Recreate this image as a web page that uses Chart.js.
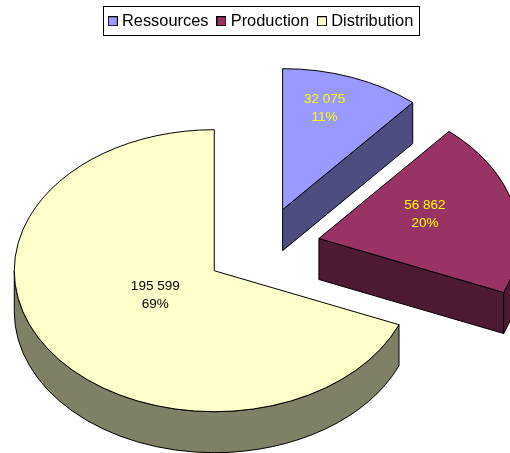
<!DOCTYPE html>
<html>
<head>
<meta charset="utf-8">
<script src="https://cdn.jsdelivr.net/npm/chart.js@4"></script>
<style>
  html, body { margin: 0; padding: 0; background: #fff; overflow: hidden; }
  #wrap { width: 510px; height: 453px; }
</style>
</head>
<body>
<div id="wrap"><canvas id="myChart" width="510" height="453"></canvas></div>
<script>
const categories = ['Ressources', 'Production', 'Distribution'];
const values = [32075, 56862, 195599];
const percents = ['11%', '20%', '69%'];
const valueLabels = ['32 075', '56 862', '195 599'];

const topColors = ['#9999FF', '#993366', '#FFFFCC'];
const sideColors = ['#4D4D80', '#4D1933', '#808066'];
const textColors = ['#FFFF00', '#FFFF00', '#000000'];
// label centre, relative to the tip of its slice
const labelShift = [[42, -101], [106, -24], [-59, 25]];

const squash = 0.705;
const depth = 41;
const explode = 58;
const pieCenterY = 248;

function swatch(color) {
  const c = document.createElement('canvas');
  c.width = 10;
  c.height = 10;
  const g = c.getContext('2d');
  g.fillStyle = color;
  g.fillRect(0, 0, 10, 10);
  g.strokeStyle = '#000';
  g.lineWidth = 1;
  g.strokeRect(0.5, 0.5, 9, 9);
  return c;
}

function pieMiddle(chart) {
  return (chart.chartArea.top + chart.chartArea.bottom) / 2;
}

function squashCtx(chart) {
  chart.ctx.translate(0, pieCenterY - squash * pieMiddle(chart));
  chart.ctx.scale(1, squash);
}

// side walls and cut faces, painted under the slices
function drawSides(chart) {
  const ctx = chart.ctx;
  const h = depth / squash;
  chart.getDatasetMeta(0).data.forEach(function (arc, i) {
    const p = arc.getProps(['x', 'y', 'startAngle', 'endAngle', 'outerRadius'], true);
    const faces = [];
    if (Math.cos(p.endAngle) > 0.001) faces.push(p.endAngle);
    if (Math.cos(p.startAngle) < -0.001) faces.push(p.startAngle);
    faces.forEach(function (a) {
      ctx.save();
      squashCtx(chart);
      ctx.beginPath();
      ctx.moveTo(p.x, p.y);
      ctx.lineTo(p.x + p.outerRadius * Math.cos(a), p.y + p.outerRadius * Math.sin(a));
      ctx.lineTo(p.x + p.outerRadius * Math.cos(a), p.y + h + p.outerRadius * Math.sin(a));
      ctx.lineTo(p.x, p.y + h);
      ctx.closePath();
      ctx.restore();
      ctx.fillStyle = sideColors[i];
      ctx.fill();
      ctx.strokeStyle = '#000';
      ctx.lineWidth = 1;
      ctx.stroke();
    });
    const from = Math.max(p.startAngle, 0);
    const to = Math.min(p.endAngle, Math.PI);
    if (to > from) {
      ctx.save();
      squashCtx(chart);
      ctx.beginPath();
      ctx.arc(p.x, p.y, p.outerRadius, from, to);
      ctx.arc(p.x, p.y + h, p.outerRadius, to, from, true);
      ctx.closePath();
      ctx.restore();
      ctx.fillStyle = sideColors[i];
      ctx.fill();
      ctx.strokeStyle = '#000';
      ctx.lineWidth = 1;
      ctx.stroke();
    }
  });
}

const pie3d = {
  id: 'pie3d',
  afterDatasetsUpdate(chart) {
    chart.getDatasetMeta(0).data.forEach(function (arc) {
      const mid = (arc.startAngle + arc.endAngle) / 2;
      arc.x += explode * Math.cos(mid);
      arc.y += explode * Math.sin(mid);
    });
  },
  beforeDatasetsDraw(chart) {
    drawSides(chart);
    chart.ctx.save();
    squashCtx(chart);
  },
  afterDatasetsDraw(chart) {
    const ctx = chart.ctx;
    ctx.restore();
    chart.getDatasetMeta(0).data.forEach(function (arc, i) {
      // outline with an even 1px pen
      ctx.save();
      squashCtx(chart);
      ctx.beginPath();
      ctx.moveTo(arc.x, arc.y);
      ctx.arc(arc.x, arc.y, arc.outerRadius, arc.startAngle, arc.endAngle);
      ctx.closePath();
      ctx.restore();
      ctx.strokeStyle = '#000';
      ctx.lineWidth = 1;
      ctx.stroke();

      const tipY = pieCenterY + squash * (arc.y - pieMiddle(chart));
      const x = arc.x + labelShift[i][0];
      const y = tipY + labelShift[i][1];
      ctx.fillStyle = textColors[i];
      ctx.font = '13.5px "Liberation Sans", Arial, sans-serif';
      ctx.textAlign = 'center';
      ctx.textBaseline = 'middle';
      ctx.fillText(valueLabels[i], x, y - 9);
      ctx.fillText(percents[i], x, y + 9);
    });

    // frame around the legend
    const boxes = chart.legend.legendHitBoxes;
    const last = boxes[boxes.length - 1];
    const left = Math.round(boxes[0].left) - 9;
    const right = Math.round(last.left + last.width) + 6;
    ctx.strokeStyle = '#000';
    ctx.lineWidth = 1;
    ctx.strokeRect(left + 0.5, 6.5, right - left, 29);
  }
};

new Chart(document.getElementById('myChart'), {
  type: 'pie',
  plugins: [pie3d],
  data: {
    labels: categories,
    datasets: [{
      data: values,
      backgroundColor: topColors,
      borderWidth: 0,
      clip: false
    }]
  },
  options: {
    responsive: false,
    animation: false,
    events: [],
    radius: 200,
    layout: { padding: { left: 15, top: 1 } },
    plugins: {
      tooltip: { enabled: false },
      legend: {
        position: 'top',
        labels: {
          color: '#000',
          font: { family: '"Liberation Sans", Arial, sans-serif', size: 16.4 },
          padding: 12,
          usePointStyle: true,
          pointStyleWidth: 2,
          boxHeight: 10,
          generateLabels: function () {
            return categories.map(function (name, i) {
              return { text: name, pointStyle: swatch(topColors[i]), fontColor: '#000', index: i };
            });
          }
        }
      }
    }
  }
});
</script>
</body>
</html>
